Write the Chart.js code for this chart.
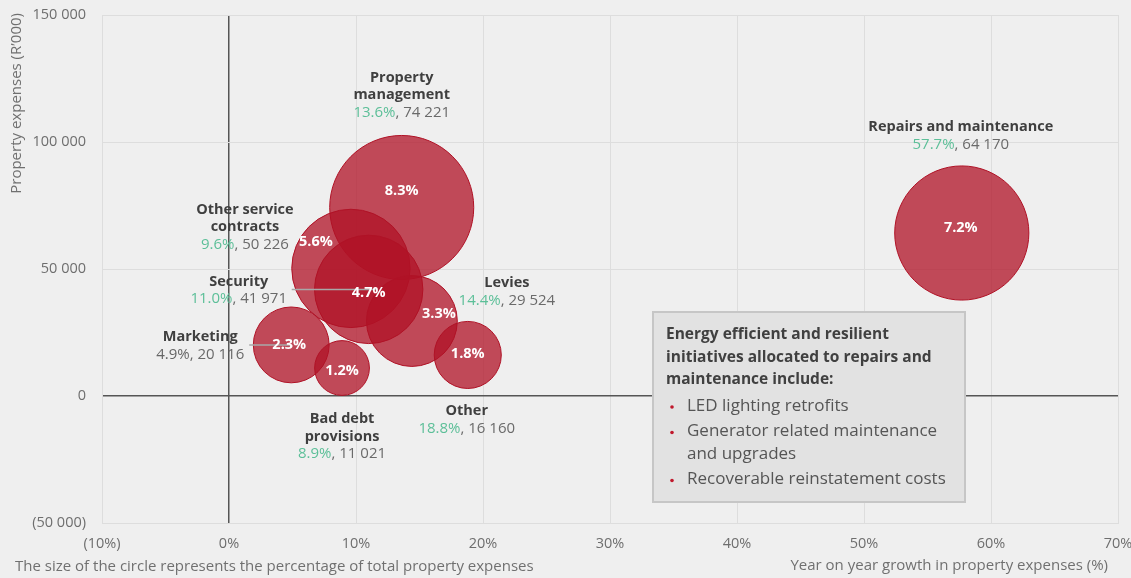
<!DOCTYPE html>
<html>
<head>
<meta charset="utf-8">
<script src="https://cdn.jsdelivr.net/npm/chart.js@4.4.1/dist/chart.umd.min.js"></script>
<style>
  html, body { margin:0; padding:0; background:#efefef; overflow:hidden; }
  #wrap { width:1131px; height:578px; position:relative; }
</style>
</head>
<body>
<div id="wrap"><canvas id="grafico" width="1131" height="578"></canvas></div>
<script>
// datos
var nombres = [["Property","management"],["Repairs and maintenance"],["Other service","contracts"],["Security"],["Levies"],["Marketing"],["Bad debt","provisions"],["Other"]];
var crecimiento = [13.6, 57.7, 9.6, 11.0, 14.4, 4.9, 8.9, 18.8];   // % interanual
var gastos = [74221, 64170, 50226, 41971, 29524, 20116, 11021, 16160]; // R'000
var participacion = [8.3, 7.2, 5.6, 4.7, 3.3, 2.3, 1.2, 1.8];        // % del total
var ticksX = [-10, 0, 10, 20, 30, 40, 50, 60, 70];
var ticksY = [-50000, 0, 50000, 100000, 150000];
var notaTitulo = ["Energy efficient and resilient","initiatives allocated to repairs and","maintenance include:"];
var notaPuntos = [["LED lighting retrofits"],["Generator related maintenance","and upgrades"],["Recoverable reinstatement costs"]];

// ubicacion de las etiquetas (px respecto al centro de la burbuja)
var posEtiqueta = [[0,-130],[-1,-106],[-106,-59],[-130,-8],[95,-38],[-91,-8],[0,51],[-1,56]];
var posInterior = [[0,-17],[-1,-5],[-35,-27],[0,3],[27,-7],[-2,0],[0,3],[0,-1]];
var colorPct = ["#5cbf98","#5cbf98","#5cbf98","#5cbf98","#5cbf98","#666","#5cbf98","#5cbf98"];
var lineasGuia = {3:[-77,8,0], 5:[-42,-1,0]};

var fuente = "'Open Sans', sans-serif";

function miles(n){
    var s = Math.abs(n).toString().replace(/\B(?=(\d{3})+(?!\d))/g, " ");
    return n < 0 ? "(" + s + ")" : s;
}

var puntos = [];
for (let i = 0; i < gastos.length; i++) {
    puntos.push({x: crecimiento[i], y: gastos[i]});
}

var etiquetas = {
    id: "etiquetas",
    afterDatasetsDraw(chart){
        const c = chart.ctx;
        const meta = chart.getDatasetMeta(0);
        c.save();
        // lineas guia
        c.strokeStyle = "#a8a8a8";
        c.lineWidth = 1.5;
        for (const k in lineasGuia) {
            const p = meta.data[k];
            const g = lineasGuia[k];
            c.beginPath();
            c.moveTo(p.x + g[0], p.y + g[2]);
            c.lineTo(p.x + g[1], p.y + g[2]);
            c.stroke();
        }
        c.textBaseline = "middle";
        for (let i = 0; i < meta.data.length; i++) {
            const p = meta.data[i];
            // porcentaje interior
            c.font = "bold 14.5px " + fuente;
            c.fillStyle = "#ffffff";
            c.textAlign = "center";
            c.fillText(participacion[i].toFixed(1) + "%", p.x + posInterior[i][0], p.y + posInterior[i][1]);
            // nombre
            const cx = p.x + posEtiqueta[i][0];
            let y = p.y + posEtiqueta[i][1];
            c.fillStyle = "#3f3f3f";
            for (const linea of nombres[i]) {
                c.fillText(linea, cx, y);
                y += 17.5;
            }
            // valores
            c.font = "15px " + fuente;
            const a = crecimiento[i].toFixed(1) + "%";
            const b = ", " + miles(gastos[i]);
            const wa = c.measureText(a).width, wb = c.measureText(b).width;
            const x0 = cx - (wa + wb) / 2;
            c.textAlign = "left";
            c.fillStyle = colorPct[i];
            c.fillText(a, x0, y);
            c.fillStyle = "#6a6a6a";
            c.fillText(b, x0 + wa, y);
        }
        c.restore();
    },
    afterDraw(chart){
        const c = chart.ctx;
        c.save();
        // titulos de ejes y nota
        c.fillStyle = "#707070";
        c.font = "15px " + fuente;
        c.textBaseline = "middle";
        c.textAlign = "left";
        c.fillText("The size of the circle represents the percentage of total property expenses", 15, 567);
        c.textAlign = "right";
        c.fillText("Year on year growth in property expenses (%)", 1108, 566);
        c.translate(17, 13);
        c.rotate(-Math.PI / 2);
        c.textAlign = "right";
        c.fillText("Property expenses (R\u2019000)", 0, 0);
        c.restore();

        // recuadro
        c.save();
        c.fillStyle = "#e2e2e2";
        c.strokeStyle = "#c6c6c6";
        c.lineWidth = 2;
        c.fillRect(653, 312, 312, 190);
        c.strokeRect(653, 312, 312, 190);
        c.textBaseline = "middle";
        c.textAlign = "left";
        c.fillStyle = "#404040";
        c.font = "bold 15.5px " + fuente;
        let y = 335;
        for (const t of notaTitulo) { c.fillText(t, 666, y); y += 22.5; }
        c.font = "17px " + fuente;
        y = 406;
        for (const pto of notaPuntos) {
            c.fillStyle = "#c0182c";
            c.beginPath();
            c.arc(672, y + 1, 1.8, 0, Math.PI * 2);
            c.fill();
            c.fillStyle = "#555555";
            for (const t of pto) { c.fillText(t, 687, y); y += 22.5; }
            y += 3;
        }
        c.restore();
    }
};

var ctx = document.getElementById("grafico").getContext("2d");
var chart = new Chart(ctx, {
    type: "bubble",
    data: {
        datasets: [{
            label: "Property expenses",
            data: puntos,
            radius: (c) => 25 * Math.sqrt(participacion[c.dataIndex]),
            hoverRadius: (c) => 25 * Math.sqrt(participacion[c.dataIndex]),
            backgroundColor: "rgba(176,18,38,0.75)",
            borderColor: "rgb(176,18,38)",
            borderWidth: 1
        }]
    },
    options: {
        responsive: false,
        animation: false,
        devicePixelRatio: 1,
        clip: false,
        layout: { autoPadding: false, padding: { top: 15, right: 13, left: 0, bottom: 0 } },
        plugins: { legend: { display: false }, tooltip: { enabled: false } },
        scales: {
            x: {
                type: "linear", min: -10, max: 70,
                afterBuildTicks: (s) => { s.ticks = ticksX.map(v => ({value: v})); },
                afterFit: (s) => { s.height = 55; s.paddingLeft = 0; s.paddingRight = 0; },
                ticks: {
                    color: "#6e6e6e", font: { family: fuente, size: 14.5 }, padding: 12, maxRotation: 0,
                    callback: (v) => v < 0 ? "(" + Math.abs(v) + "%)" : v + "%"
                },
                grid: {
                    color: (c) => c.tick && c.tick.value === 0 ? "#555555" : "#dddddd",
                    lineWidth: (c) => c.tick && c.tick.value === 0 ? 1.5 : 1,
                    drawTicks: false
                },
                border: { display: true, color: "#dddddd" }
            },
            y: {
                type: "linear", min: -50000, max: 150000,
                afterBuildTicks: (s) => { s.ticks = ticksY.map(v => ({value: v})); },
                afterFit: (s) => { s.width = 102; s.paddingTop = 0; s.paddingBottom = 0; },
                ticks: {
                    color: "#6e6e6e", font: { family: fuente, size: 14.5 }, padding: 16,
                    callback: (v) => miles(v)
                },
                grid: {
                    color: (c) => c.tick && c.tick.value === 0 ? "#555555" : "#dddddd",
                    lineWidth: (c) => c.tick && c.tick.value === 0 ? 1.5 : 1,
                    drawTicks: false
                },
                border: { display: true, color: "#dddddd" }
            }
        }
    },
    plugins: [etiquetas, {
        id: "fondo",
        beforeDraw(chart){
            const c = chart.ctx;
            c.save();
            c.fillStyle = "#efefef";
            c.fillRect(0, 0, chart.width, chart.height);
            c.restore();
        }
    }]
});
</script>
</body>
</html>
